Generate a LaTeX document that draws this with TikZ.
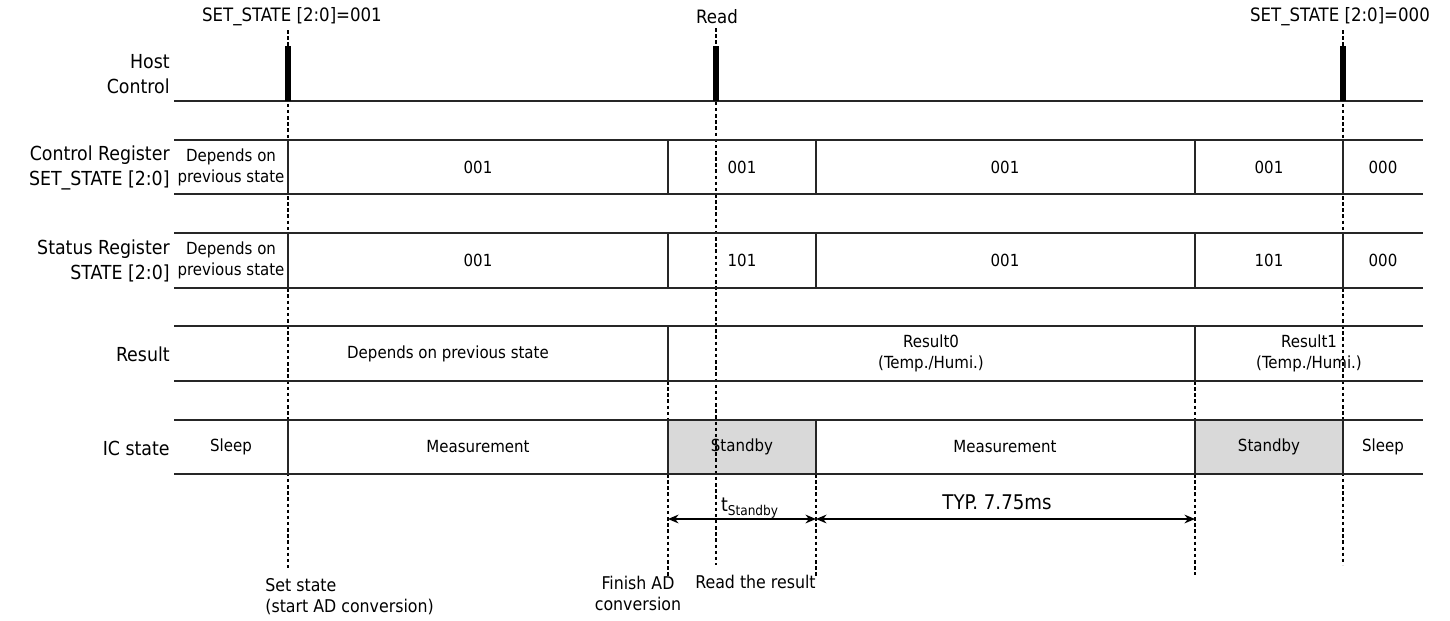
\documentclass[tikz,border=0pt]{standalone}
\usepackage{fontspec}
\setmainfont{DejaVu Sans Condensed}
\usetikzlibrary{arrows.meta,positioning}

\tikzset{
  signal/.style={anchor=east, align=right, inner sep=0pt, font=\fontsize{11}{14.7}\selectfont},
  cell/.style={align=center, font=\fontsize{9.5}{12}\selectfont},
  event/.style={font=\fontsize{10.5}{12}\selectfont},
  note/.style={font=\fontsize{10}{12}\selectfont},
  row/.style={line width=0.8pt, draw=black!85},
  pulse/.style={line width=3pt},
  guide/.style={line width=0.6pt, dash pattern=on 2pt off 1.5pt},
  busy/.style={fill=black!15},
  span/.style={<->, line width=0.8pt},
}

% time marks along x
\def\tSet{288}
\def\tDone{668}
\def\tRead{716}
\def\tMeas{816}
\def\tNext{1195}
\def\tOff{1343}
\def\xL{174}
\def\xR{1423}

\begin{document}
\begin{tikzpicture}[x=0.02cm, y=-0.02cm, >={Stealth[length=6pt,width=5pt]}]
\useasboundingbox (0,0) rectangle (1450,620);

% standby phases
\fill[busy] (\tDone,420) rectangle (\tMeas,474);
\fill[busy] (\tNext,420) rectangle (\tOff,474);

% dashed time marks
\draw[guide] (\tSet,30) -- (\tSet,568);
\draw[guide] (\tRead,28) -- (\tRead,565);
\draw[guide] (\tOff,30) -- (\tOff,565);
\draw[guide] (\tDone,381) -- (\tDone,420) (\tDone,474) -- (\tDone,578);
\draw[guide] (\tMeas,474) -- (\tMeas,578);
\draw[guide] (\tNext,381) -- (\tNext,420) (\tNext,474) -- (\tNext,575);

% host control line with pulses
\draw[row] (\xL,101) -- (\xR,101);
\foreach \x in {\tSet,\tRead,\tOff}
  \draw[pulse] (\x,46) -- (\x,101);

% row edges
\foreach \y in {140,194,233,288,326,381,420,474}
  \draw[row] (\xL,\y) -- (\xR,\y);

% cell borders
\foreach \y in {140,233}
  \foreach \x in {\tSet,\tDone,\tMeas,\tNext,\tOff}
    \draw[row] (\x,\y) -- (\x,\y+54);
\foreach \x in {\tDone,\tNext}
  \draw[row] (\x,326) -- (\x,381);
\foreach \x in {\tSet,\tDone,\tMeas,\tNext,\tOff}
  \draw[row] (\x,420) -- (\x,474);

% events on top
\node[event] (setA) at (292,17) {SET\_STATE [2:0]=001};
\node[event] (read) at (717,17) {Read};
\node[event] (setB) at (1340,17) {SET\_STATE [2:0]=000};

% signal names
\node[signal] (host) at (170,74) {Host\\Control};
\node[signal] (ctrl) at (170,168) {Control Register\\SET\_STATE [2:0]};
\node[signal] (stat) at (170,261) {Status Register\\STATE [2:0]};
\node[signal] (res) at (170,354) {Result};
\node[signal] (ic) at (170,448) {IC state};

% control register
\node[cell] (c0) at (231,167) {Depends on\\previous state};
\node[cell] (c1) at (478,167) {001};
\node[cell] (c2) at (742,167) {001};
\node[cell] (c3) at (1005,167) {001};
\node[cell] (c4) at (1269,167) {001};
\node[cell] (c5) at (1383,167) {000};

% status register
\node[cell] (s0) at (231,260) {Depends on\\previous state};
\node[cell] (s1) at (478,260) {001};
\node[cell] (s2) at (742,260) {101};
\node[cell] (s3) at (1005,260) {001};
\node[cell] (s4) at (1269,260) {101};
\node[cell] (s5) at (1383,260) {000};

% result
\node[cell] (r0) at (448,354) {Depends on previous state};
\node[cell] (r1) at (931,353) {Result0\\(Temp./Humi.)};
\node[cell] (r2) at (1309,353) {Result1\\(Temp./Humi.)};

% ic state
\node[cell] (i0) at (231,447) {Sleep};
\node[cell] (i1) at (478,447) {Measurement};
\node[cell] (i2) at (742,447) {Standby};
\node[cell] (i3) at (1005,447) {Measurement};
\node[cell] (i4) at (1269,447) {Standby};
\node[cell] (i5) at (1383,447) {Sleep};

% timings
\coordinate (d0) at (\tDone,519);
\coordinate (d1) at (\tMeas,519);
\coordinate (d2) at (\tNext,519);
\draw[span] (d0) -- (d1);
\draw[span] (d1) -- (d2);
\node[font=\fontsize{11}{13}\selectfont] (tsb) at (750,508) {t\textsubscript{Standby}};
\node[font=\fontsize{11.5}{14}\selectfont] (typ) at (997,502) {TYP. 7.75ms};

% notes below
\node[note, anchor=west, align=left, inner sep=0] (setnote) at (265,597) {Set state\\(start AD conversion)};
\node[note, align=center] (donenote) at (638,593) {Finish AD\\conversion};
\node[note, anchor=west, inner sep=0] (readnote) at (695,582) {Read the result};
\end{tikzpicture}
\end{document}
